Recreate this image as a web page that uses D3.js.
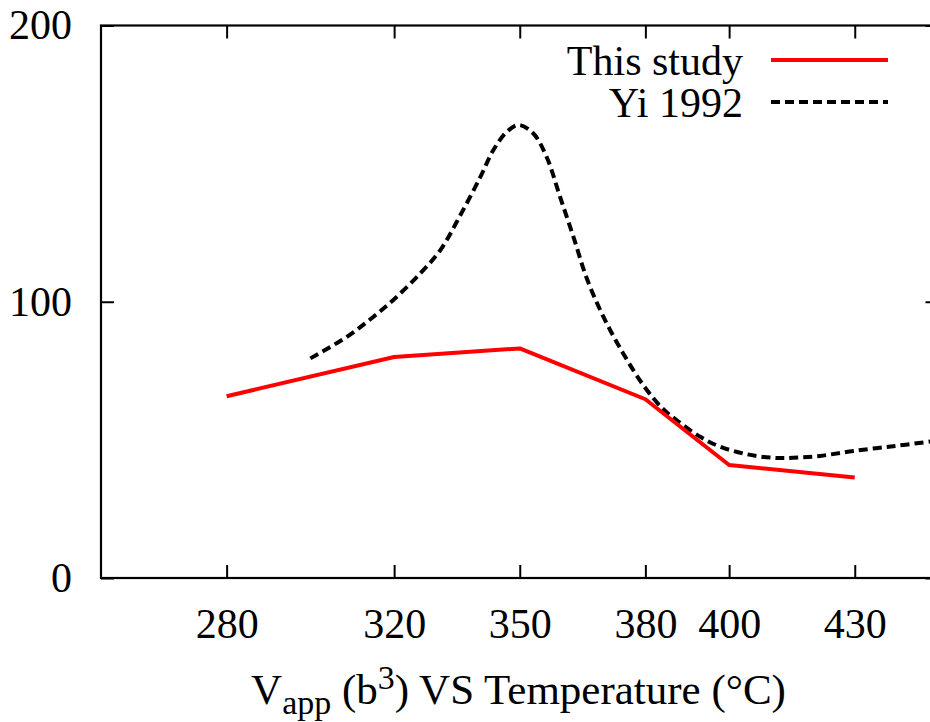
<!DOCTYPE html>
<html>
<head>
<meta charset="utf-8">
<script src="https://cdn.jsdelivr.net/npm/d3@7"></script>
<style>
  html, body { margin: 0; padding: 0; background: #fff; }
  svg { display: block; }
  text { font-family: "Liberation Serif", "Times New Roman", serif; fill: #000; }
</style>
</head>
<body>
<svg id="chart" width="930" height="722"></svg>
<script>
// ---- data ----
const xTickValues = [280, 320, 350, 380, 400, 430];
const yTickValues = [0, 100, 200];

const studyTemp = [280, 320, 350, 380, 400, 430];
const studyVapp = [65.8, 80.0, 83.1, 64.7, 40.9, 36.4];

const yiTemp = [300, 308.7, 315.0, 320.2, 326.2, 331.0, 335.8, 340.6, 343.7, 346.9, 349.7,
                353.2, 356.4, 359.6, 362.8, 366.0, 370.0, 374.7, 379.5,
                384.0, 387.5, 393.1, 397.9, 404.2, 410.6, 415.3, 421.7, 429.7, 439.2, 448.0, 450];
const yiVapp = [79.5, 87.3, 94.5, 101.2, 110.2, 118.6, 131.3, 145.2, 154.9, 161.5, 164.0,
                161.0, 152.5, 138.1, 123.6, 108.5, 94.5, 81.3, 69.8,
                61.5, 57.1, 51.1, 47.5, 44.8, 43.5, 43.5, 44.2, 46.0, 47.7, 49.4, 49.8];

const seriesNames = ["This study", "Yi 1992"];
const xTitleParts = ["V", "app", " (b", "3", ") VS Temperature (°C)"];

// ---- layout ----
const mLeft = 101, mRight = 938.5, mTop = 25.5, mBottom = 578;
const svg = d3.select("#chart");

const x = d3.scaleLinear().domain([250, 450]).range([mLeft, mRight]);
const y = d3.scaleLinear().domain([0, 200]).range([mBottom, mTop]);

const tickLen = 13;

// clip
svg.append("defs").append("clipPath").attr("id", "plotclip")
  .append("rect").attr("x", mLeft).attr("y", mTop).attr("width", mRight - mLeft).attr("height", mBottom - mTop);

// axes
const gx = svg.append("g").attr("transform", `translate(0,${mBottom})`)
  .call(d3.axisBottom(x).tickValues(xTickValues).tickSizeInner(-tickLen).tickSizeOuter(0).tickFormat(d3.format("d")));
gx.selectAll("text").attr("y", 60).attr("dy", 0).style("font-size", "42px");

const gxt = svg.append("g").attr("transform", `translate(0,${mTop})`)
  .call(d3.axisTop(x).tickValues(xTickValues).tickSizeInner(-tickLen).tickSizeOuter(0).tickFormat(""));

const gy = svg.append("g").attr("transform", `translate(${mLeft},0)`)
  .call(d3.axisLeft(y).tickValues(yTickValues).tickSizeInner(-tickLen).tickSizeOuter(0).tickPadding(29));
gy.selectAll("text").style("font-size", "42px").attr("dy", "0.32em");

const gyr = svg.append("g").attr("transform", `translate(${mRight},0)`)
  .call(d3.axisRight(y).tickValues(yTickValues).tickSizeInner(-tickLen).tickSizeOuter(0).tickFormat(""));

[gx, gxt, gy, gyr].forEach(g => {
  g.select(".domain").remove();
  g.selectAll("line").attr("stroke", "#000").attr("stroke-width", 2);
  g.selectAll("text").attr("fill", "#000").style("font-family", '"Liberation Serif", "Times New Roman", serif');
});

// frame
svg.append("rect").attr("x", mLeft).attr("y", mTop).attr("width", mRight - mLeft).attr("height", mBottom - mTop)
  .attr("fill", "none").attr("stroke", "#000").attr("stroke-width", 2.2);

// lines
const studyData = studyTemp.map((t, i) => [t, studyVapp[i]]);
const yiData = yiTemp.map((t, i) => [t, yiVapp[i]]);

const plot = svg.append("g").attr("clip-path", "url(#plotclip)");
plot.append("path").datum(yiData)
  .attr("d", d3.line().x(d => x(d[0])).y(d => y(d[1])).curve(d3.curveCatmullRom.alpha(0.5)))
  .attr("fill", "none").attr("stroke", "#000").attr("stroke-width", 4)
  .attr("stroke-dasharray", "9,5");
plot.append("path").datum(studyData)
  .attr("d", d3.line().x(d => x(d[0])).y(d => y(d[1])))
  .attr("fill", "none").attr("stroke", "#ff0000").attr("stroke-width", 4)
  .attr("stroke-linejoin", "round");

// legend
const legend = svg.append("g");
const legendRows = [
  { name: seriesNames[0], color: "#ff0000", dash: null, ty: 75, ly: 60 },
  { name: seriesNames[1], color: "#000", dash: "9,5", ty: 117, ly: 102 }
];
legendRows.forEach(r => {
  legend.append("text").attr("x", 743).attr("y", r.ty).attr("text-anchor", "end")
    .style("font-size", "42px").text(r.name);
  legend.append("line").attr("x1", 771).attr("x2", 888).attr("y1", r.ly).attr("y2", r.ly)
    .attr("stroke", r.color).attr("stroke-width", 4)
    .attr("stroke-dasharray", r.dash);
});

// x title
const title = svg.append("text").attr("x", 518.5).attr("y", 704).attr("text-anchor", "middle")
  .style("font-size", "43px");
title.append("tspan").text(xTitleParts[0]);
title.append("tspan").attr("dy", 10).style("font-size", "34px").text(xTitleParts[1]);
title.append("tspan").attr("dy", -10).text(xTitleParts[2]);
title.append("tspan").attr("dy", -15).style("font-size", "34px").text(xTitleParts[3]);
title.append("tspan").attr("dy", 15).text(xTitleParts[4]);
</script>
</body>
</html>
